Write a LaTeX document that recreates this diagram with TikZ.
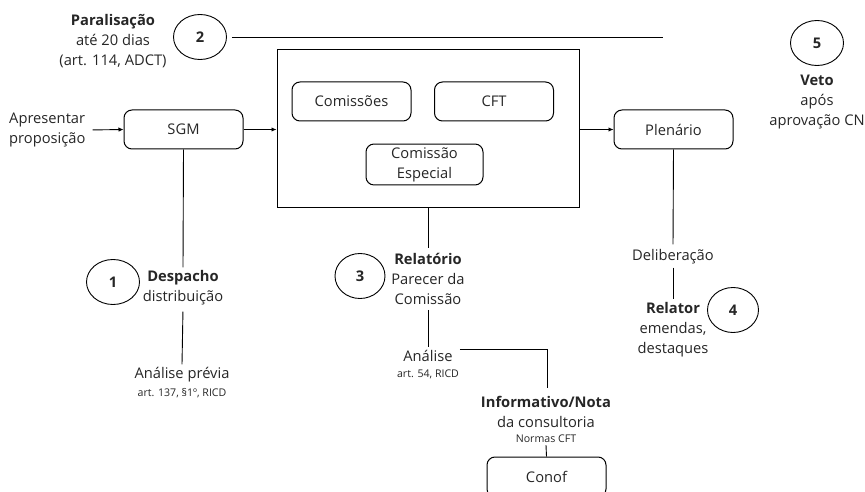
\documentclass[tikz,border=0pt]{standalone}
\usepackage{fontspec}
\setmainfont{Open Sans}
\usetikzlibrary{shapes.geometric,arrows.meta}
\definecolor{txt}{HTML}{262626}
\begin{document}
\begin{tikzpicture}[x=1pt,y=-1pt,
  font=\fontsize{14.7}{20}\selectfont,
  box/.style={draw, rounded corners=8pt, line width=1pt, minimum width=119pt, minimum height=39pt, text=txt, align=center},
  num/.style={draw, ellipse, minimum width=53pt, minimum height=45pt, line width=0.9pt, text=txt, font=\fontsize{14.7}{20}\selectfont\bfseries},
  lbl/.style={align=center, inner sep=3pt, text=txt},
  small/.style={inner sep=2pt, text=txt, font=\fontsize{10.6}{12}\selectfont},
  conn/.style={line width=0.9pt},
  arr/.style={conn, -{Latex[length=5pt,width=4.5pt]}}]
\useasboundingbox (0,0) rectangle (865,492);

% top: paralisacao
\node[lbl] (para) at (113,41) {\textbf{Paralisação}\\até 20 dias\\(art. 114, ADCT)};
\node[num] (n2) at (200,37) {2};
\coordinate (p2end) at (663,37);
\draw[conn, shorten <=5pt] (n2) -- (p2end);

% veto
\node[num] (n5) at (817,43) {5};
\node[lbl] (veto) at (817,102) {\textbf{Veto}\\após\\aprovação CN};

% main row
\node[lbl, align=left, anchor=west] (apres) at (6,130) {Apresentar\\proposição};
\node[box] (sgm) at (183.5,129.5) {SGM};
\node[draw, line width=1pt, minimum width=302pt, minimum height=157pt] (big) at (428,128.5) {};
\node[box] (com) at (351.5,101.5) {Comissões};
\node[box] (cft) at (494,101.5) {CFT};
\node[box, minimum width=117pt] (esp) at (424.5,164.5) {Comissão\\Especial};
\node[box] (plen) at (673.5,129.5) {Plenário};

\draw[arr, shorten <=4pt] (apres.east) -- (sgm.west);
\draw[arr] (sgm.east) -- (big.west |- sgm.east);
\draw[arr] (big.east |- plen.west) -- (plen.west);

% despacho branch
\node[lbl] (desp) at (183,288) {\textbf{Despacho}\\distribuição};
\node[num] (n1) at (113,282) {1};
\node[lbl] (anal1) at (182,375) {Análise prévia};
\node[small] (ref1) at (182,393) {art. 137, §1º, RICD};
\draw[conn] (sgm.south) -- (desp.north);
\draw[conn, shorten <=3pt] (desp.south) -- (anal1.north);

% relatorio branch
\node[lbl] (rel) at (428,279) {\textbf{Relatório}\\Parecer da\\Comissão};
\node[num, minimum width=50pt] (n3) at (360,276) {3};
\node[lbl] (anal2) at (428,356) {Análise};
\node[small] (ref2) at (428,374) {art. 54, RICD};
\draw[conn, shorten >=2pt] (big.south) -- (rel.north);
\draw[conn, shorten <=2pt] (rel.south) -- (anal2.north);

\node[lbl, inner sep=0pt] (info) at (546,412) {\textbf{Informativo/Nota}\\da consultoria};
\node[small] (norm) at (546,439) {Normas CFT};
\node[box, minimum height=40pt] (conof) at (546.5,477) {Conof};
\draw[conn] ([yshift=7pt, xshift=4pt]anal2.east) -| ([xshift=1pt, yshift=8pt]info.north);
\draw[conn] (norm.south) -- (conof.north);

% plenario branch
\node[lbl] (delib) at (673,257) {Deliberação};
\node[lbl] (relat) at (673,330) {\textbf{Relator}\\emendas,\\destaques};
\node[num, minimum width=51pt] (n4) at (733,310) {4};
\draw[conn, shorten >=2pt] (plen.south) -- (delib.north);
\draw[conn] (delib.south) -- (relat.north);
\end{tikzpicture}
\end{document}
